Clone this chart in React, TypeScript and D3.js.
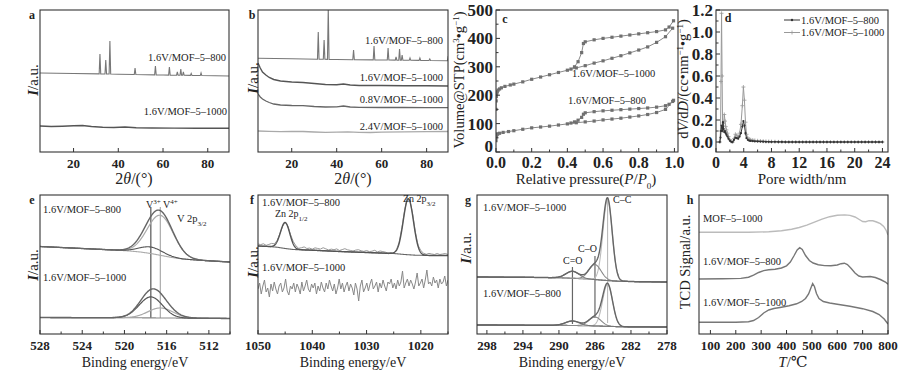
import React from "react";
import * as d3 from "d3";

type Pt = [number, number];
const FONT = "'Liberation Serif','DejaVu Serif',serif";
const INK = "#222";
const FRAME = "#333";

// ---------------- a: XRD ----------------
const aBase800: Pt[] = [[5, 79], [20, 78.5], [40, 77.8], [60, 77], [90, 76]];
const aPeaks800: Pt[] = [[31.8, 98], [34.4, 92], [36.25, 111], [47.5, 84], [56.6, 86], [62.85, 85], [66.4, 80], [67.95, 83], [69.1, 80], [72.6, 78.5], [77.0, 79]];
const a1000: Pt[] = [[5, 26], [10, 25.5], [15, 25.8], [20, 26.3], [24, 26.5], [28, 25.5], [33, 24.8], [38, 24.5], [43, 25], [48, 24.3], [55, 24], [65, 23.9], [75, 23.7], [90, 23.7]];

// ---------------- b: XRD ----------------
const bBase800: Pt[] = [[5, 93.7], [20, 93.2], [40, 92.5], [60, 92], [80, 91.5], [90, 91.3]];
const bPeaks800: Pt[] = [[31.8, 120], [34.4, 112], [36.25, 145], [47.5, 102], [56.6, 106], [62.85, 104], [66.4, 95], [67.95, 103], [69.1, 97], [72.6, 94], [77, 94], [81.4, 93], [89.6, 96]];
const b16_1000: Pt[] = [[5, 89], [6, 84], [7, 80], [8.5, 77], [10, 74.5], [12, 72.5], [15, 71], [20, 70], [25, 69.5], [30, 68.5], [35, 67.5], [40, 67.2], [43, 68], [46, 67], [50, 66.5], [60, 66.5], [70, 66.3], [80, 66.2], [90, 66]];
const b08_1000: Pt[] = [[5, 58], [6, 55], [7, 53], [8.5, 51], [10, 49.5], [12, 48], [15, 47], [20, 46.5], [25, 46.3], [30, 45.5], [35, 45], [40, 45.2], [43, 46], [46, 45], [50, 44.6], [60, 44.5], [70, 44.5], [80, 44.4], [90, 44.3]];
const b24_1000: Pt[] = [[5, 21], [10, 20.6], [15, 20.4], [20, 20.6], [25, 20.5], [30, 20], [35, 19.6], [40, 19.8], [45, 20.2], [50, 19.7], [55, 19.5], [60, 19.8], [70, 20.1], [80, 20.3], [90, 20.5]];

// ---------------- c: N2 isotherms ----------------
const cAds1000: Pt[] = [[0.0, 150], [0.001, 180], [0.002, 195], [0.004, 205], [0.007, 212], [0.012, 218], [0.02, 222], [0.03, 226], [0.05, 231], [0.08, 236], [0.1, 239], [0.15, 247], [0.2, 256], [0.25, 264], [0.3, 272], [0.35, 280], [0.4, 288], [0.45, 296], [0.5, 304], [0.55, 313], [0.6, 321], [0.65, 330], [0.7, 339], [0.75, 349], [0.8, 359], [0.85, 370], [0.9, 386], [0.95, 406], [0.99, 436]];
const cDes1000: Pt[] = [[0.995, 462], [0.97, 440], [0.95, 430], [0.9, 424], [0.85, 420], [0.8, 416], [0.75, 412], [0.7, 408], [0.65, 404], [0.6, 400], [0.55, 395], [0.5, 388], [0.49, 382], [0.48, 350], [0.46, 318], [0.44, 300], [0.42, 292]];
const cAds800: Pt[] = [[0.0, 40], [0.001, 52], [0.003, 58], [0.006, 62], [0.01, 64], [0.02, 66], [0.04, 69], [0.07, 72], [0.1, 75], [0.15, 80], [0.2, 85], [0.25, 88], [0.3, 91], [0.35, 95], [0.4, 99], [0.45, 103], [0.5, 106], [0.55, 109], [0.6, 113], [0.65, 116], [0.7, 119], [0.75, 123], [0.8, 127], [0.85, 132], [0.9, 139], [0.95, 150], [0.99, 178]];
const cDes800: Pt[] = [[0.995, 182], [0.97, 168], [0.95, 163], [0.9, 158], [0.85, 155], [0.8, 153], [0.75, 151], [0.7, 149], [0.65, 147], [0.6, 145], [0.55, 142], [0.5, 138], [0.49, 133], [0.48, 122], [0.46, 112], [0.44, 106], [0.42, 102]];

// ---------------- d: pore size distribution ----------------
const dTail: Pt[] = [[8.5, 0.002], [9, 0.001], [9.5, 0.001], [10, 0], [10.5, 0], [11, 0], [11.5, 0], [12, 0], [12.5, 0], [13, 0], [13.5, 0], [14, 0], [14.5, 0], [15, 0], [15.5, 0], [16, 0], [16.5, 0], [17, 0], [17.5, 0], [18, 0], [18.5, 0], [19, 0], [19.5, 0], [20, 0], [20.5, 0], [21, 0], [21.5, 0], [22, 0], [22.5, 0], [23, 0], [23.5, 0], [24, 0]];
const d1000: Pt[] = [[0.55, 0], [0.65, 0.1], [0.72, 0.55], [0.8, 1.17], [0.88, 0.6], [0.95, 0.15], [1.0, 0.1], [1.1, 0.17], [1.2, 0.25], [1.3, 0.19], [1.4, 0.14], [1.5, 0.11], [1.65, 0.08], [1.8, 0.05], [2.0, 0.02], [2.2, 0.005], [2.4, 0.0], [2.6, 0.03], [2.8, 0.07], [3.0, 0.06], [3.2, 0.04], [3.4, 0.08], [3.6, 0.16], [3.8, 0.33], [3.95, 0.5], [4.1, 0.38], [4.25, 0.18], [4.4, 0.07], [4.6, 0.035], [4.8, 0.025], [5.0, 0.02], [5.3, 0.017], [5.6, 0.014], [6.0, 0.011], [6.4, 0.009], [6.8, 0.007], [7.2, 0.005], [7.6, 0.004], [8.0, 0.003], ...dTail];
const d800: Pt[] = [[0.55, 0], [0.65, 0.04], [0.72, 0.1], [0.8, 0.15], [0.88, 0.1], [0.95, 0.13], [1.0, 0.18], [1.1, 0.12], [1.2, 0.09], [1.3, 0.1], [1.4, 0.08], [1.5, 0.065], [1.65, 0.05], [1.8, 0.03], [2.0, 0.012], [2.2, 0.002], [2.4, 0.0], [2.6, 0.02], [2.8, 0.04], [3.0, 0.035], [3.2, 0.03], [3.4, 0.05], [3.6, 0.08], [3.8, 0.14], [3.95, 0.19], [4.1, 0.15], [4.25, 0.08], [4.4, 0.035], [4.6, 0.018], [4.8, 0.012], [5.0, 0.01], [5.3, 0.008], [5.6, 0.006], [6.0, 0.005], [6.4, 0.004], [6.8, 0.003], [7.2, 0.002], [7.6, 0.002], [8.0, 0.001], ...dTail];

// ---------------- e: V 2p XPS (component: [centre eV, height, FWHM]) ----------------
const eBg800: Pt[] = [[528, 87.5], [524, 85.5], [521, 84], [519.5, 83], [518.5, 82], [517.5, 80.5], [516.5, 78.5], [515.5, 76.5], [514.5, 75], [513, 73.8], [510, 72]];
const eComp800 = [[517.5, 6.5, 2.6], [516.6, 40, 2.9]];
const eBg1000: Pt[] = [[528, 16.5], [520, 16.3], [516, 16], [510, 15.5]];
const eComp1000 = [[517.5, 21, 2.6], [516.6, 10, 2.8]];
const eMarks = [[517.5, 127, 16], [516.6, 127, 16]];

// ---------------- f: Zn 2p XPS ----------------
const fBg800: Pt[] = [[1050, 88], [1048, 87.5], [1046.5, 86.8], [1045, 85.5], [1043.5, 84.5], [1040, 83.8], [1035, 82.5], [1030, 81.5], [1025, 80.5], [1023, 79.5], [1021, 78.8], [1018, 78.5], [1015, 78.5]];
const fComp800 = [[1045.0, 26, 2.0], [1022.3, 56, 2.2]];
const f800RawDev = [2, 1.5, 2.5, 1, 2, 3, 1.5, 1, 0.5, -0.5, 0.5, 1, 1.5, 2.5, 2, 1, 2, 3, 1.5, 2, 1, 2.5, 2, 1.5, 3, 2, 1, 2, 1.5, 2.5, 1, 2, 3, 2, 1.5, 1, 2, 2.5, 1.5, 1, 2, 1, 1.5, 2.5, 1, 2, 1.5, 1, -0.5, 0.5, -1, 0.5, 1, 2, 1.5, 2.5, 1, 2, 1.5, 1, 2, 1.5, 1, 2, 1.5, 1, 2, 1, 1.5, 2, 1];
const f1000 = [45, 51, 40, 48, 54, 42, 46, 37, 50, 43, 52, 45, 40, 48, 51, 42, 46, 55, 43, 39,
  48, 45, 51, 42, 50, 46, 40, 52, 43, 48, 54, 45, 42, 50, 46, 51, 40, 48, 43, 52,
  46, 42, 51, 45, 54, 48, 43, 50, 40, 46, 55, 45, 51, 42, 48, 52, 43, 50, 46, 39,
  51, 45, 33, 48, 54, 42, 46, 51, 43, 50, 55, 45, 48, 52, 42, 51, 46, 54, 48, 43,
  52, 50, 55, 46, 51, 45, 54, 48, 52, 63, 46, 51, 55, 48, 54, 50, 45, 52, 61, 48,
  51, 55, 46, 54, 64, 50, 52, 48, 57, 51, 54, 46, 55, 50, 52, 58, 48, 54];

// ---------------- g: C 1s XPS ----------------
const gBg1000: Pt[] = [[299.1, 57], [294, 56.7], [290, 56.3], [288, 55.5], [286.5, 54.8], [285, 53.7], [283.5, 52.8], [281, 52.3], [278, 52]];
const gComp1000 = [[288.5, 7, 1.7], [286.0, 15, 1.6], [284.6, 81, 1.2]];
const gBg800: Pt[] = [[299.1, 9], [290, 8.7], [287, 8.3], [285, 7.8], [283, 7.2], [278, 7]];
const gComp800 = [[288.5, 4.5, 1.8], [286.0, 9, 1.6], [284.6, 42, 1.3]];
const gMarks = [[288.5, 67, 10], [286.0, 78, 16]];
const gMarkCC = [284.6, 134, 11];

// ---------------- h: H2-TPR ----------------
const hMOF1000: Pt[] = [[55, 101.7], [150, 101.7], [250, 101.8], [330, 102.2], [380, 103.2], [420, 104.8], [450, 106.5], [480, 108.8], [510, 111.8], [540, 114.8], [570, 117.3], [600, 118.7], [630, 119.1], [650, 118.6], [670, 117], [690, 114], [700, 112.5], [712, 112.3], [725, 113.3], [740, 113.2], [755, 112], [770, 110.3], [783, 107.5], [793, 103.5], [800, 99]];
const h800: Pt[] = [[55, 55], [150, 55.2], [220, 55.6], [250, 56.8], [270, 58.8], [290, 61.5], [310, 63.4], [330, 64.2], [355, 64.8], [380, 66], [400, 68.2], [415, 72], [430, 78.5], [442, 84], [452, 86.3], [462, 84.5], [475, 78.5], [490, 73.5], [505, 71], [525, 69.3], [550, 68.4], [575, 68.2], [600, 69], [615, 70.3], [628, 70.8], [640, 69.5], [655, 65.5], [670, 61], [685, 58], [700, 57], [715, 57.3], [730, 57.5], [750, 56.5], [770, 54.5], [790, 52], [800, 49.7]];
const h1000: Pt[] = [[55, 11.7], [200, 11.8], [250, 12.3], [270, 13.5], [290, 16.5], [310, 21], [330, 24], [350, 25.5], [380, 26.8], [410, 28.2], [440, 30.2], [460, 32.5], [475, 35.5], [487, 40], [496, 46], [503, 50.5], [510, 47.5], [518, 40.5], [528, 35.5], [545, 32.5], [570, 31], [600, 29.8], [650, 27.8], [700, 25.3], [740, 22.5], [765, 19.5], [785, 15], [800, 10]];

// ---------------- helpers ----------------
function xrdLine(base: Pt[], peaks: Pt[], hw = 0.35): Pt[] {
  const b = d3.scaleLinear().domain(base.map(d => d[0])).range(base.map(d => d[1]));
  const pts: Pt[] = base.map(d => [d[0], d[1]] as Pt);
  peaks.forEach(([p, h]) => { pts.push([p - hw, b(p - hw)], [p, h], [p + hw, b(p + hw)]); });
  return pts.sort((a, c) => a[0] - c[0]);
}
const gauss = (x: number, c: number[]) => c[1] * Math.exp(-4 * Math.LN2 * ((x - c[0]) / c[2]) ** 2);
function xps(bg: Pt[], comps: number[][], lo: number, hi: number) {
  const s = bg.slice().sort((a, c) => a[0] - c[0]);
  const bgS = d3.scaleLinear().domain(s.map(d => d[0])).range(s.map(d => d[1]));
  const grid = d3.range(lo, hi + 1e-9, 0.05);
  return {
    bg: grid.map(x => [x, bgS(x)] as Pt),
    comps: comps.map(c => grid.map(x => [x, bgS(x) + gauss(x, c)] as Pt)),
    env: grid.map(x => [x, bgS(x) + d3.sum(comps, c => gauss(x, c))] as Pt),
    bgS,
  };
}

type Cfg = {
  id: string; x0: number; x1: number; y0: number; y1: number;
  xd: [number, number]; yd: [number, number];
  xMajor: number[]; xMinor?: number[]; xFmt?: (v: number) => string; xFs: number; xDy: number;
  yMajor?: number[]; yMinor?: number[]; yFmt?: (v: number) => string; yFs?: number; yZeroLift?: number;
};

function Panel({ c, children }: { c: Cfg; children: (x: any, y: any) => React.ReactNode }) {
  const x = d3.scaleLinear().domain(c.xd).range([c.x0, c.x1]);
  const y = d3.scaleLinear().domain(c.yd).range([c.y1, c.y0]);
  const xf = c.xFmt ?? ((v: number) => String(v));
  const yf = c.yFmt ?? ((v: number) => String(v));
  return (
    <g>
      <defs>
        <clipPath id={c.id}><rect x={c.x0} y={c.y0} width={c.x1 - c.x0} height={c.y1 - c.y0} /></clipPath>
      </defs>
      <g clipPath={`url(#${c.id})`}>{children(x, y)}</g>
      <rect x={c.x0} y={c.y0} width={c.x1 - c.x0} height={c.y1 - c.y0} fill="none" stroke={FRAME} strokeWidth={1.1} />
      {c.xMajor.map(v => <line key={"xM" + v} x1={x(v)} x2={x(v)} y1={c.y1} y2={c.y1 - 4} stroke={FRAME} />)}
      {(c.xMinor ?? []).map(v => <line key={"xm" + v} x1={x(v)} x2={x(v)} y1={c.y1} y2={c.y1 - 2.5} stroke={FRAME} />)}
      {c.xMajor.map(v => (
        <text key={"xl" + v} x={x(v)} y={c.y1 + c.xDy} textAnchor="middle" fontSize={c.xFs} fontWeight="bold" fill={INK}>{xf(v)}</text>
      ))}
      {(c.yMajor ?? []).map(v => <line key={"yM" + v} x1={c.x0} x2={c.x0 + 4} y1={y(v)} y2={y(v)} stroke={FRAME} />)}
      {(c.yMinor ?? []).map(v => <line key={"ym" + v} x1={c.x0} x2={c.x0 + 2.5} y1={y(v)} y2={y(v)} stroke={FRAME} />)}
      {(c.yMajor ?? []).map((v, i) => (
        <text key={"yl" + v} x={c.x0 - 3} y={y(v) - (i === 0 ? (c.yZeroLift ?? 0) : 0)} dy="0.35em" textAnchor="end" fontSize={c.yFs} fontWeight="bold" fill={INK}>{yf(v)}</text>
      ))}
    </g>
  );
}

const path = (x: any, y: any, d: Pt[]) => d3.line<Pt>().x(p => x(p[0])).y(p => y(p[1]))(d) ?? "";

function Lbl({ x, y, children, anchor = "start", fs = 10.5 }: any) {
  return <text x={x} y={y} fontSize={fs} textAnchor={anchor} fill={INK}>{children}</text>;
}
function YTitle({ x, y, fs = 15, children }: any) {
  return <text transform={`translate(${x},${y}) rotate(-90)`} textAnchor="middle" dy="0.35em" fontSize={fs} fill={INK}>{children}</text>;
}
const IAU = () => (<><tspan fontStyle="italic" fontWeight="bold">I</tspan>/a.u.</>);
function Letter({ x, y, t }: any) {
  return <text x={x} y={y} dy="0.35em" textAnchor="middle" fontSize={12} fontWeight="bold" fill={INK}>{t}</text>;
}

const xrdTicks = [20, 40, 60, 80];
const M800 = "1.6V/MOF–5–800";
const M1000 = "1.6V/MOF–5–1000";

export default function App() {
  const aCfg: Cfg = { id: "ca", x0: 40, x1: 229, y0: 10, y1: 152, xd: [5, 89.5], yd: [0, 142], xMajor: xrdTicks, xFs: 13, xDy: 16 };
  const bCfg: Cfg = { ...aCfg, id: "cb", x0: 258, x1: 448 };
  const cCfg: Cfg = {
    id: "cc", x0: 496, x1: 678, y0: 10, y1: 152, xd: [0, 1.02], yd: [0, 500],
    xMajor: [0, 0.2, 0.4, 0.6, 0.8, 1.0], xMinor: [0.1, 0.3, 0.5, 0.7, 0.9], xFmt: v => v.toFixed(1), xFs: 16, xDy: 16,
    yMajor: [0, 100, 200, 300, 400, 500], yMinor: [50, 150, 250, 350, 450], yFs: 17, yZeroLift: 6,
  };
  const dCfg: Cfg = {
    id: "cd", x0: 716, x1: 888, y0: 10, y1: 152, xd: [0, 24.8], yd: [-0.0909, 1.2],
    xMajor: [0, 4, 8, 12, 16, 20, 24], xMinor: [2, 6, 10, 14, 18, 22], xFs: 16, xDy: 16,
    yMajor: [0, 0.2, 0.4, 0.6, 0.8, 1.0, 1.2], yMinor: [0.1, 0.3, 0.5, 0.7, 0.9, 1.1], yFmt: v => v.toFixed(1), yFs: 17,
  };
  const eCfg: Cfg = { id: "ce", x0: 40, x1: 230, y0: 195, y1: 334, xd: [528, 510], yd: [0, 139], xMajor: [528, 524, 520, 516, 512], xMinor: [526, 522, 518, 514, 510], xFs: 13, xDy: 16 };
  const fCfg: Cfg = { id: "cf", x0: 258, x1: 448, y0: 195, y1: 334, xd: [1050, 1015], yd: [0, 139], xMajor: [1050, 1040, 1030, 1020], xMinor: [1045, 1035, 1025, 1015], xFs: 13, xDy: 16 };
  const gCfg: Cfg = { id: "cg", x0: 477, x1: 667, y0: 195, y1: 334, xd: [299.1, 278], yd: [0, 139], xMajor: [298, 294, 290, 286, 282, 278], xMinor: [296, 292, 288, 284, 280], xFs: 13, xDy: 16 };
  const hCfg: Cfg = { id: "ch", x0: 699, x1: 888, y0: 195, y1: 334, xd: [55, 800], yd: [0, 139], xMajor: [100, 200, 300, 400, 500, 600, 700, 800], xFs: 13, xDy: 16 };

  const a800 = xrdLine(aBase800, aPeaks800);
  const b800 = xrdLine(bBase800, bPeaks800);
  const e8 = xps(eBg800, eComp800, 510, 528);
  const e10 = xps(eBg1000, eComp1000, 510, 528);
  const f8 = xps(fBg800, fComp800, 1015, 1050);
  const g10 = xps(gBg1000, gComp1000, 278, 299.1);
  const g8 = xps(gBg800, gComp800, 278, 299.1);
  const fRaw: Pt[] = f800RawDev.map((dv, i) => {
    const xv = 1050 - (i * 35) / (f800RawDev.length - 1);
    return [xv, f8.bgS(xv) + d3.sum(fComp800, c => gauss(xv, c)) + dv] as Pt;
  });
  const fNoise: Pt[] = f1000.map((v, i) => [1050 - (i * 35) / (f1000.length - 1), v] as Pt);

  return (
    <svg width={906} height={380} viewBox="0 0 906 380" style={{ position: "absolute", left: 0, top: 0, display: "block" }} fontFamily={FONT}>
      <rect width={906} height={380} fill="#fff" />

      {/* a */}
      <Panel c={aCfg}>{(x, y) => (<g fill="none">
        <path d={path(x, y, a800)} stroke="#777" strokeWidth={1.1} />
        <path d={path(x, y, a1000)} stroke="#555" strokeWidth={1.4} />
      </g>)}</Panel>
      <Letter x={32} y={15} t="a" />
      <YTitle x={33} y={80}><IAU /></YTitle>
      <Lbl x={226} y={61} anchor="end">{M800}</Lbl>
      <Lbl x={227} y={115} anchor="end">{M1000}</Lbl>
      <text x={134} y={184} textAnchor="middle" fontSize={16} fill={INK}>2<tspan fontStyle="italic">θ</tspan>/(°)</text>

      {/* b */}
      <Panel c={bCfg}>{(x, y) => (<g fill="none">
        <path d={path(x, y, b800)} stroke="#777" strokeWidth={1.1} />
        <path d={path(x, y, b16_1000)} stroke="#555" strokeWidth={1.4} />
        <path d={path(x, y, b08_1000)} stroke="#666" strokeWidth={1.3} />
        <path d={path(x, y, b24_1000)} stroke="#aaa" strokeWidth={1.3} />
      </g>)}</Panel>
      <Letter x={252} y={15} t="b" />
      <YTitle x={253} y={78}><IAU /></YTitle>
      <Lbl x={443} y={44} anchor="end">{M800}</Lbl>
      <Lbl x={443} y={81} anchor="end">{M1000}</Lbl>
      <Lbl x={443} y={103} anchor="end">0.8V/MOF–5–1000</Lbl>
      <Lbl x={443} y={130} anchor="end">2.4V/MOF–5–1000</Lbl>
      <text x={353} y={184} textAnchor="middle" fontSize={16} fill={INK}>2<tspan fontStyle="italic">θ</tspan>/(°)</text>

      {/* c */}
      <Panel c={cCfg}>{(x, y) => (<g>
        {[cAds1000, cDes1000, cAds800, cDes800].map((s, k) => (
          <g key={k}>
            <path d={path(x, y, s)} fill="none" stroke="#888" strokeWidth={1} />
            {s.map((p, i) => <rect key={i} x={x(p[0]) - 1.6} y={y(p[1]) - 1.6} width={3.2} height={3.2} fill="#707070" />)}
          </g>
        ))}
      </g>)}</Panel>
      <Letter x={505} y={19} t="c" />
      <YTitle x={459} y={80} fs={14.5}>Volume@STP(cm<tspan baselineShift="super" fontSize={9}>3</tspan>•g<tspan baselineShift="super" fontSize={9}>−1</tspan>)</YTitle>
      <Lbl x={572} y={77}>{M1000}</Lbl>
      <Lbl x={568} y={104}>{M800}</Lbl>
      <text x={586} y={184} textAnchor="middle" fontSize={15} fill={INK}>Relative pressure(<tspan fontStyle="italic">P</tspan>/<tspan fontStyle="italic">P</tspan><tspan baselineShift="sub" fontSize={9}>0</tspan>)</text>

      {/* d */}
      <Panel c={dCfg}>{(x, y) => (<g>
        <path d={path(x, y, d1000)} fill="none" stroke="#999" strokeWidth={1} />
        {d1000.map((p, i) => <path key={i} d={`M${x(p[0]) - 2},${y(p[1])}h4M${x(p[0])},${y(p[1]) - 2}v4`} stroke="#999" strokeWidth={0.8} />)}
        <path d={path(x, y, d800)} fill="none" stroke="#333" strokeWidth={1} />
        {d800.map((p, i) => <circle key={i} cx={x(p[0])} cy={y(p[1])} r={1.1} fill="#333" />)}
      </g>)}</Panel>
      <Letter x={728} y={18} t="d" />
      <YTitle x={683} y={79} fs={14.5}>d<tspan fontStyle="italic">V</tspan>/d<tspan fontStyle="italic">D</tspan>/(cc•nm<tspan baselineShift="super" fontSize={9}>−1</tspan>•g<tspan baselineShift="super" fontSize={9}>−1</tspan>)</YTitle>
      <g>
        <line x1={784} x2={800} y1={20} y2={20} stroke="#333" />
        <circle cx={792} cy={20} r={1.2} fill="#333" />
        <Lbl x={801} y={23.5}>{M800}</Lbl>
        <line x1={784} x2={800} y1={32.5} y2={32.5} stroke="#999" />
        <path d="M790,32.5h4M792,30.5v4" stroke="#999" strokeWidth={0.8} />
        <Lbl x={801} y={36}>{M1000}</Lbl>
      </g>
      <text x={802} y={184} textAnchor="middle" fontSize={15} fill={INK}>Pore width/nm</text>

      {/* e */}
      <Panel c={eCfg}>{(x, y) => (<g fill="none">
        {eMarks.map((m, i) => <line key={i} x1={x(m[0])} x2={x(m[0])} y1={y(m[1])} y2={y(m[2])} stroke={i === 0 ? "#555" : "#aaa"} strokeWidth={1.2} />)}
        <path d={path(x, y, e8.bg)} stroke="#aaa" strokeWidth={1.1} />
        <path d={path(x, y, e8.comps[1])} stroke="#aaa" strokeWidth={1.2} />
        <path d={path(x, y, e8.comps[0])} stroke="#555" strokeWidth={1.1} />
        <path d={path(x, y, e8.env)} stroke="#666" strokeWidth={1.4} />
        <path d={path(x, y, e10.bg)} stroke="#888" strokeWidth={1.1} />
        <path d={path(x, y, e10.comps[1])} stroke="#aaa" strokeWidth={1.2} />
        <path d={path(x, y, e10.comps[0])} stroke="#555" strokeWidth={1.2} />
        <path d={path(x, y, e10.env)} stroke="#666" strokeWidth={1.4} />
      </g>)}</Panel>
      <Letter x={32} y={200} t="e" />
      <YTitle x={33} y={265}><IAU /></YTitle>
      <Lbl x={43} y={213}>{M800}</Lbl>
      <Lbl x={43} y={281}>{M1000}</Lbl>
      <Lbl x={146} y={208} fs={10}>V<tspan baselineShift="super" fontSize={7}>3+</tspan> V<tspan baselineShift="super" fontSize={7}>4+</tspan></Lbl>
      <Lbl x={177} y={222} fs={10.5}>V 2p<tspan baselineShift="sub" fontSize={7}>3/2</tspan></Lbl>
      <text x={135} y={367} textAnchor="middle" fontSize={14} fill={INK}>Binding energy/eV</text>

      {/* f */}
      <Panel c={fCfg}>{(x, y) => (<g fill="none">
        <path d={path(x, y, fRaw)} stroke="#999" strokeWidth={1} />
        <path d={path(x, y, f8.bg)} stroke="#666" strokeWidth={1.1} />
        <path d={path(x, y, f8.env)} stroke="#555" strokeWidth={1.4} />
        <path d={path(x, y, fNoise)} stroke="#888" strokeWidth={1} />
      </g>)}</Panel>
      <Letter x={252} y={200} t="f" />
      <YTitle x={253} y={262}><IAU /></YTitle>
      <Lbl x={262} y={206}>{M800}</Lbl>
      <Lbl x={275} y={217} fs={10}>Zn 2p<tspan baselineShift="sub" fontSize={7}>1/2</tspan></Lbl>
      <Lbl x={403} y={202} fs={10}>Zn 2p<tspan baselineShift="sub" fontSize={7}>3/2</tspan></Lbl>
      <Lbl x={262} y={271}>{M1000}</Lbl>
      <text x={353} y={367} textAnchor="middle" fontSize={14} fill={INK}>Binding energy/eV</text>

      {/* g */}
      <Panel c={gCfg}>{(x, y) => (<g fill="none">
        <line x1={x(gMarkCC[0])} x2={x(gMarkCC[0])} y1={y(gMarkCC[1])} y2={y(gMarkCC[2])} stroke="#bbb" strokeWidth={1.1} />
        {gMarks.map((m, i) => <line key={i} x1={x(m[0])} x2={x(m[0])} y1={y(m[1])} y2={y(m[2])} stroke="#666" strokeWidth={1.2} />)}
        {[g10, g8].map((g, k) => (
          <g key={k}>
            <path d={path(x, y, g.bg)} stroke="#777" strokeWidth={1.1} />
            <path d={path(x, y, g.comps[2])} stroke="#bbb" strokeWidth={1.1} />
            <path d={path(x, y, g.comps[1])} stroke="#888" strokeWidth={1.1} />
            <path d={path(x, y, g.comps[0])} stroke="#777" strokeWidth={1.1} />
            <path d={path(x, y, g.env)} stroke="#666" strokeWidth={1.4} />
          </g>
        ))}
      </g>)}</Panel>
      <Letter x={468} y={200} t="g" />
      <YTitle x={466} y={248}><IAU /></YTitle>
      <Lbl x={483} y={211}>{M1000}</Lbl>
      <Lbl x={613} y={203} fs={10}>C–C</Lbl>
      <Lbl x={578} y={252} fs={10}>C–O</Lbl>
      <Lbl x={563} y={264} fs={10}>C=O</Lbl>
      <Lbl x={483} y={297}>{M800}</Lbl>
      <text x={572} y={367} textAnchor="middle" fontSize={14} fill={INK}>Binding energy/eV</text>

      {/* h */}
      <Panel c={hCfg}>{(x, y) => (<g fill="none">
        <path d={path(x, y, hMOF1000)} stroke="#bbb" strokeWidth={1.4} />
        <path d={path(x, y, h800)} stroke="#777" strokeWidth={1.4} />
        <path d={path(x, y, h1000)} stroke="#777" strokeWidth={1.4} />
      </g>)}</Panel>
      <Letter x={690} y={200} t="h" />
      <YTitle x={685} y={262} fs={14.5}>TCD Signal/a.u.</YTitle>
      <Lbl x={703} y={222}>MOF–5–1000</Lbl>
      <Lbl x={703} y={265}>{M800}</Lbl>
      <Lbl x={703} y={306}>{M1000}</Lbl>
      <text x={793} y={367} textAnchor="middle" fontSize={15} fill={INK}><tspan fontStyle="italic">T</tspan>/℃</text>
    </svg>
  );
}
